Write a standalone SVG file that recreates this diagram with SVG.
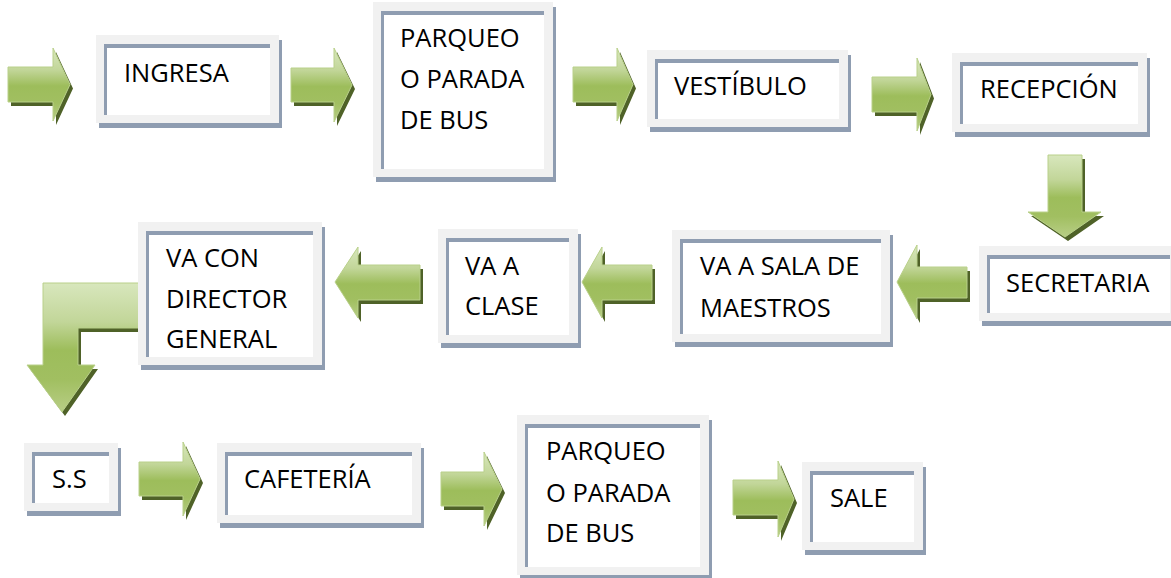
<svg xmlns="http://www.w3.org/2000/svg" xmlns:xlink="http://www.w3.org/1999/xlink" width="1171" height="578" viewBox="0 0 1171 578">
<style>
.frame{fill:#f1f1f1}
.shadow{fill:#8f9db1}
.inner{fill:#8f9db1}
.white{fill:#ffffff}
.t{font-family:"Open Sans","Noto Sans","Liberation Sans",sans-serif;font-size:25.5px;fill:#000000}
.arr{fill:url(#g);stroke:#b9d08a;stroke-width:1}
.ash{fill:#4f6228}
</style>
<defs>
<linearGradient id="g" x1="0" y1="0" x2="0" y2="1">
<stop offset="0" stop-color="#d8e7bd"/>
<stop offset="0.3" stop-color="#c2d699"/>
<stop offset="0.52" stop-color="#9dbd5b"/>
<stop offset="0.75" stop-color="#a1bf61"/>
<stop offset="1" stop-color="#b8ce86"/>
</linearGradient>
<path id="a1" d="M8 67 H53 V48 L70 84.5 L53 121 V102 H8 Z"/>
<path id="a2" d="M291 68 H334 V48 L352 85 L334 122 V102 H291 Z"/>
<path id="a3" d="M573 67 H617 V48 L633 84.5 L617 121 V102 H573 Z"/>
<path id="a4" d="M872 77 H917 V58 L931 94.5 L917 131 V112 H872 Z"/>
<path id="a5" d="M1048 155 H1082 V212 H1101 L1065 237 L1028 212 H1048 Z"/>
<path id="a6" d="M967 267 H917 V245 L897 282 L917 319 V298 H967 Z"/>
<path id="a7" d="M652 265 H602 V247 L582 282 L602 318 V300 H652 Z"/>
<path id="a8" d="M420 265 H358 V247 L335 282 L358 318 V300 H420 Z"/>
<path id="a9" d="M142 283 V328 H78 V365 H95 L62 412 L27 365 H43 V283 Z"/>
<path id="a10" d="M139 462 H183 V442 L200 479 L183 516 V496 H139 Z"/>
<path id="a11" d="M441 472 H484 V452 L502 489 L484 526 V506 H441 Z"/>
<path id="a12" d="M733 480 H778 V461 L794 499 L778 537 V515 H733 Z"/>
</defs>

<g id="connectors">
<use href="#a1" class="ash" transform="translate(3,4)"/><use href="#a1" class="arr"/>
<use href="#a2" class="ash" transform="translate(3,4)"/><use href="#a2" class="arr"/>
<use href="#a3" class="ash" transform="translate(3,4)"/><use href="#a3" class="arr"/>
<use href="#a4" class="ash" transform="translate(3,4)"/><use href="#a4" class="arr"/>
<use href="#a5" class="ash" transform="translate(3,4)"/><use href="#a5" class="arr"/>
<use href="#a6" class="ash" transform="translate(3,4)"/><use href="#a6" class="arr"/>
<use href="#a7" class="ash" transform="translate(3,4)"/><use href="#a7" class="arr"/>
<use href="#a8" class="ash" transform="translate(3,4)"/><use href="#a8" class="arr"/>
<use href="#a9" class="ash" transform="translate(3,4)"/><use href="#a9" class="arr"/>
<use href="#a10" class="ash" transform="translate(3,4)"/><use href="#a10" class="arr"/>
<use href="#a11" class="ash" transform="translate(3,4)"/><use href="#a11" class="arr"/>
<use href="#a12" class="ash" transform="translate(3,4)"/><use href="#a12" class="arr"/>
</g>

<g id="ingresa">
<rect class="shadow" x="99" y="40" width="183" height="88"/>
<rect class="frame" x="96" y="35" width="183" height="88"/>
<rect class="inner" x="104" y="44" width="166" height="71"/>
<rect class="white" x="107" y="48" width="163" height="67"/>
<text class="t" x="124" y="82">INGRESA</text>
</g>

<g id="parqueo1">
<rect class="shadow" x="376" y="7" width="180" height="175"/>
<rect class="frame" x="373" y="2" width="180" height="175"/>
<rect class="inner" x="381" y="11" width="163" height="158"/>
<rect class="white" x="384" y="15" width="160" height="154"/>
<text class="t" x="400" y="47">PARQUEO</text>
<text class="t" x="400" y="88">O PARADA</text>
<text class="t" x="400" y="129">DE BUS</text>
</g>

<g id="vestibulo">
<rect class="shadow" x="650" y="55" width="201" height="77"/>
<rect class="frame" x="647" y="50" width="201" height="77"/>
<rect class="inner" x="655" y="59" width="184" height="60"/>
<rect class="white" x="658" y="63" width="181" height="56"/>
<text class="t" x="674" y="95">VESTÍBULO</text>
</g>

<g id="recepcion">
<rect class="shadow" x="955" y="58" width="195" height="79"/>
<rect class="frame" x="952" y="53" width="195" height="79"/>
<rect class="inner" x="960" y="62" width="178" height="62"/>
<rect class="white" x="963" y="66" width="175" height="58"/>
<text class="t" x="980" y="98">RECEPCIÓN</text>
</g>

<g id="secretaria">
<rect class="shadow" x="982" y="251" width="200" height="75"/>
<rect class="frame" x="979" y="246" width="200" height="75"/>
<rect class="inner" x="987" y="255" width="183" height="58"/>
<rect class="white" x="990" y="259" width="180" height="54"/>
<text class="t" x="1006" y="292">SECRETARIA</text>
</g>

<g id="sala">
<rect class="shadow" x="675" y="235" width="218" height="112"/>
<rect class="frame" x="672" y="230" width="218" height="112"/>
<rect class="inner" x="680" y="239" width="201" height="95"/>
<rect class="white" x="683" y="243" width="198" height="91"/>
<text class="t" x="700" y="275">VA A SALA DE</text>
<text class="t" x="700" y="317">MAESTROS</text>
</g>

<g id="clase">
<rect class="shadow" x="441" y="234" width="140" height="114"/>
<rect class="frame" x="438" y="229" width="140" height="114"/>
<rect class="inner" x="446" y="238" width="123" height="97"/>
<rect class="white" x="449" y="242" width="120" height="93"/>
<text class="t" x="465" y="275">VA A</text>
<text class="t" x="465" y="315">CLASE</text>
</g>

<g id="director">
<rect class="shadow" x="141" y="227" width="184" height="143"/>
<rect class="frame" x="138" y="222" width="184" height="143"/>
<rect class="inner" x="146" y="231" width="167" height="126"/>
<rect class="white" x="149" y="235" width="164" height="122"/>
<text class="t" x="166" y="267">VA CON</text>
<text class="t" x="166" y="308">DIRECTOR</text>
<text class="t" x="166" y="348">GENERAL</text>
</g>

<g id="ss">
<rect class="shadow" x="27" y="448" width="94" height="68"/>
<rect class="frame" x="24" y="443" width="94" height="68"/>
<rect class="inner" x="32" y="452" width="77" height="51"/>
<rect class="white" x="35" y="456" width="74" height="47"/>
<text class="t" x="52" y="488">S.S</text>
</g>

<g id="cafeteria">
<rect class="shadow" x="220" y="448" width="204" height="80"/>
<rect class="frame" x="217" y="443" width="204" height="80"/>
<rect class="inner" x="225" y="452" width="187" height="63"/>
<rect class="white" x="228" y="456" width="184" height="59"/>
<text class="t" x="244" y="488">CAFETERÍA</text>
</g>

<g id="parqueo2">
<rect class="shadow" x="520" y="420" width="192" height="160"/>
<rect class="frame" x="517" y="415" width="192" height="160"/>
<rect class="inner" x="525" y="424" width="175" height="143"/>
<rect class="white" x="528" y="428" width="172" height="139"/>
<text class="t" x="546" y="460">PARQUEO</text>
<text class="t" x="546" y="502">O PARADA</text>
<text class="t" x="546" y="542">DE BUS</text>
</g>

<g id="sale">
<rect class="shadow" x="805" y="467" width="121" height="88"/>
<rect class="frame" x="802" y="462" width="121" height="88"/>
<rect class="inner" x="810" y="471" width="104" height="71"/>
<rect class="white" x="813" y="475" width="101" height="67"/>
<text class="t" x="830" y="507">SALE</text>
</g>
</svg>
